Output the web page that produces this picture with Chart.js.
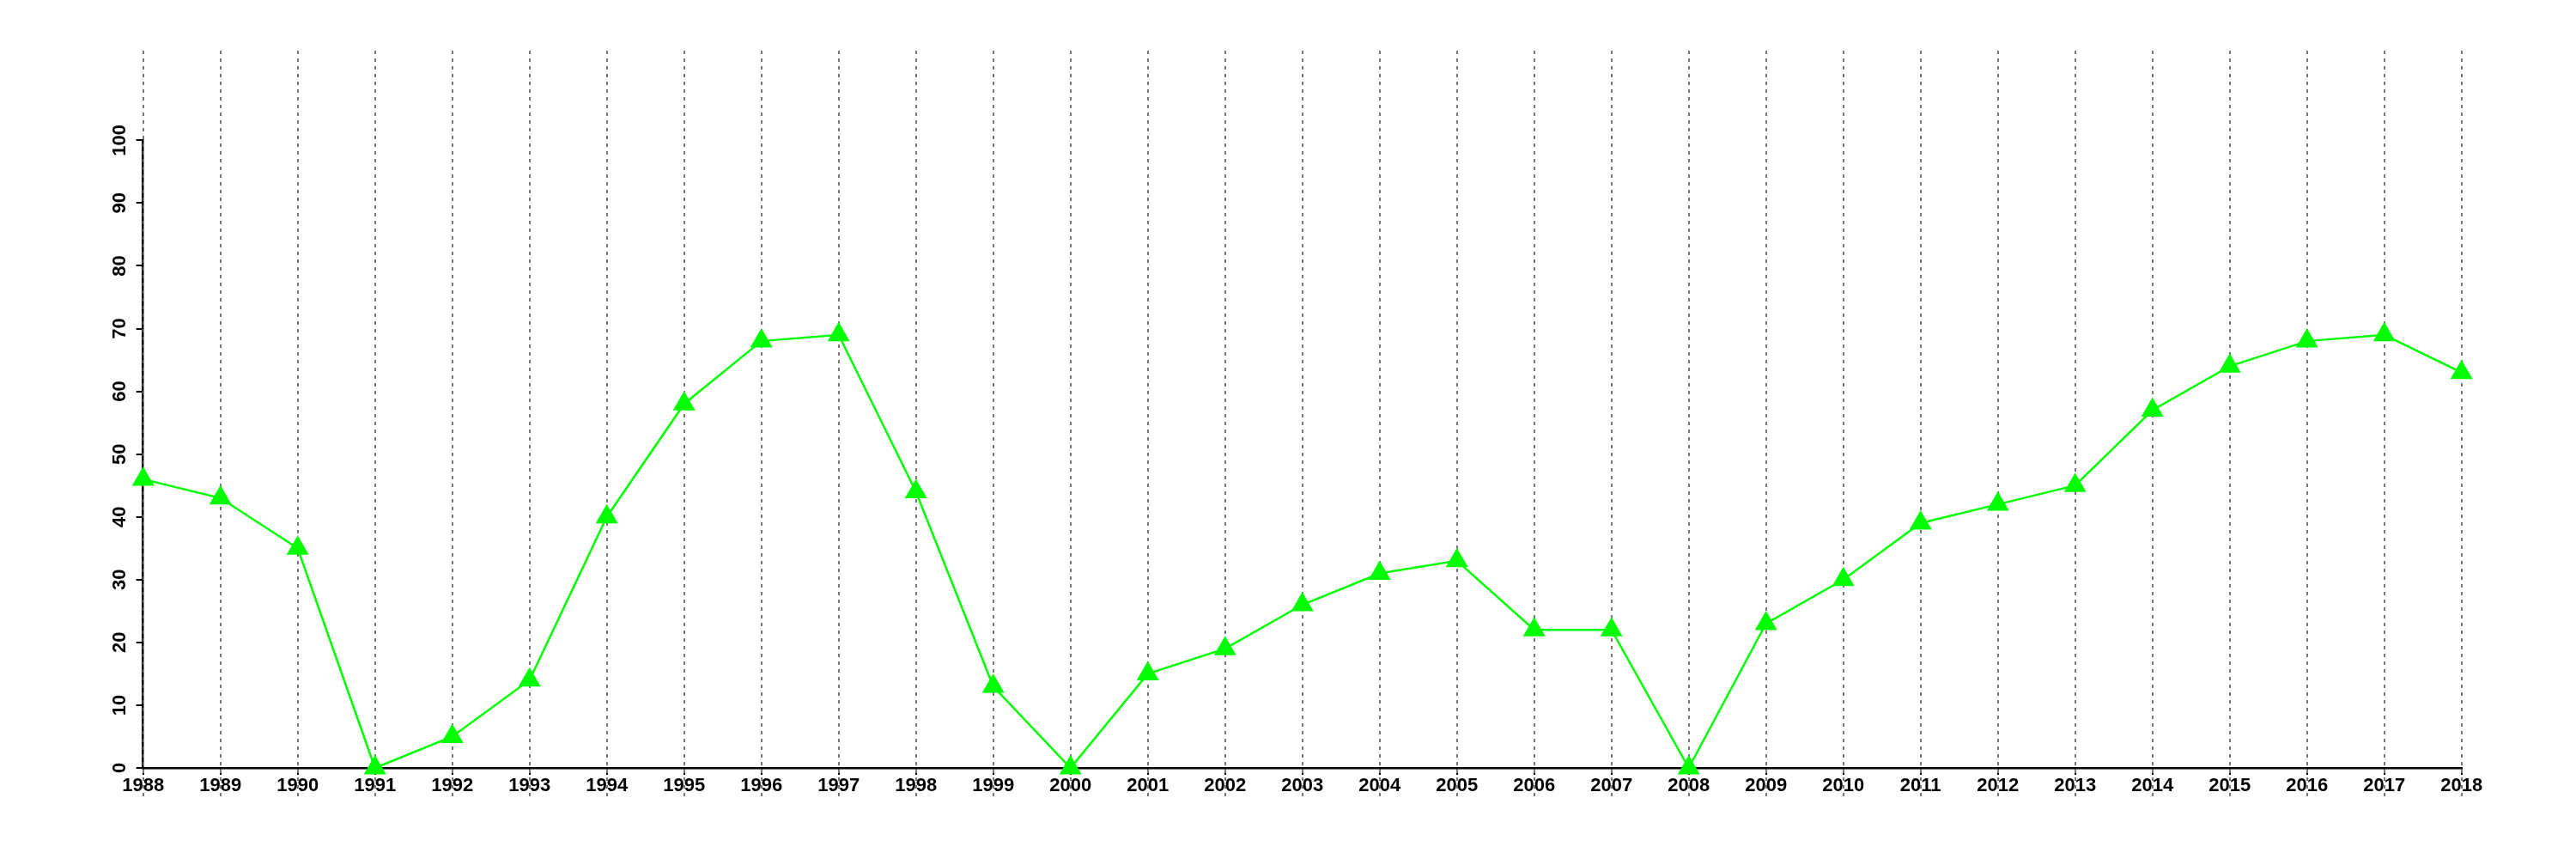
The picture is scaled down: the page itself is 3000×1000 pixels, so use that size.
<!DOCTYPE html>
<html><head><meta charset="utf-8">
<script src="https://cdn.jsdelivr.net/npm/chart.js@4"></script>
<style>html,body{margin:0;padding:0;background:#fff}canvas{display:block}</style>
</head><body>
<canvas id="c" width="3000" height="1000"></canvas>
<script>
const years = [1988,1989,1990,1991,1992,1993,1994,1995,1996,1997,1998,1999,2000,2001,2002,2003,2004,2005,2006,2007,2008,2009,2010,2011,2012,2013,2014,2015,2016,2017,2018];
const values = [46,43,35,0,5,14,40,58,68,69,44,13,0,15,19,26,31,33,22,22,0,23,30,39,42,45,57,64,68,69,63];
const yTicks = [0,10,20,30,40,50,60,70,80,90,100];

const labelFont = {family: '"Liberation Sans", Arial, sans-serif', size: 22, weight: 'bold'};

const extGrid = {
  id: 'extGrid',
  beforeDatasetsDraw(chart) {
    const ctx = chart.ctx, xs = chart.scales.x;
    ctx.save();
    ctx.strokeStyle = '#777777';
    ctx.lineWidth = 2;
    ctx.setLineDash([4, 5]);
    for (const yr of years) {
      const px = Math.round(xs.getPixelForValue(yr));
      ctx.beginPath();
      ctx.moveTo(px, 59);
      ctx.lineTo(px, 928);
      ctx.stroke();
    }
    ctx.restore();
  }
};

new Chart(document.getElementById('c'), {
  type: 'line',
  data: {
    datasets: [{
      data: years.map((y, i) => ({x: y, y: values[i]})),
      borderColor: '#00ff00',
      borderWidth: 2.5,
      backgroundColor: '#00ff00',
      pointStyle: 'triangle',
      pointRadius: 15,
      pointBackgroundColor: '#00ff00',
      pointBorderWidth: 0,
      tension: 0,
      clip: false,
      fill: false
    }]
  },
  options: {
    responsive: false,
    animation: false,
    events: [],
    layout: {padding: {top: 163.3, right: 133.3, left: 0, bottom: 0}},
    plugins: {legend: {display: false}, tooltip: {enabled: false}},
    scales: {
      x: {
        type: 'linear', position: 'bottom', min: 1988, max: 2018,
        afterBuildTicks: s => { s.ticks = years.map(v => ({value: v})); },
        afterFit: s => { s.height = 106; },
        ticks: {autoSkip: false, minRotation: 0, maxRotation: 0, padding: 0, color: '#000', font: labelFont, callback: v => String(v)},
        grid: {display: true, drawOnChartArea: false, drawTicks: true, tickLength: 8, color: '#000', lineWidth: 2},
        border: {display: true, color: '#000', width: 2.5}
      },
      y: {
        type: 'linear', position: 'left', min: 0, max: 100,
        afterBuildTicks: s => { s.ticks = yTicks.map(v => ({value: v})); },
        afterFit: s => { s.width = 166.7; },
        ticks: {autoSkip: false, minRotation: 90, maxRotation: 90, crossAlign: 'center', padding: 0, color: '#000', font: labelFont, callback: v => String(v)},
        grid: {display: true, drawOnChartArea: false, drawTicks: true, tickLength: 8, color: '#000', lineWidth: 2},
        border: {display: true, color: '#000', width: 2.5}
      }
    }
  },
  plugins: [extGrid]
});
</script>
</body></html>
